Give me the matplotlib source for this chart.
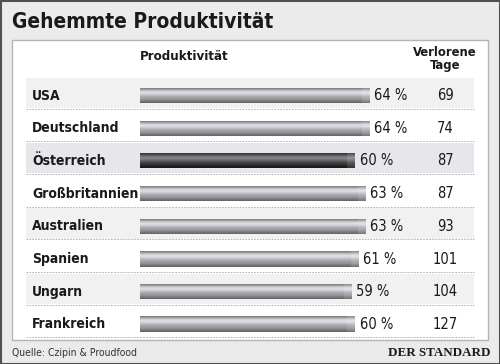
import numpy as np
import matplotlib
matplotlib.use('Agg')
import matplotlib.pyplot as plt
from matplotlib.patches import Rectangle

# Daten
laender = ['USA', 'Deutschland', 'Österreich', 'Großbritannien',
           'Australien', 'Spanien', 'Ungarn', 'Frankreich']
produktivitaet = [64, 64, 60, 63, 63, 61, 59, 60]
verlorene_tage = [69, 74, 87, 87, 93, 101, 104, 127]
hervorgehoben = 'Österreich'

titel = 'Gehemmte Produktivität'
quelle = 'Quelle: Czipin & Proudfood'

fam = ['DejaVu Sans']
eng = 'condensed'

W, H = 500, 364
fig = plt.figure(figsize=(W / 100, H / 100), dpi=100)
fig.patch.set_facecolor('#ebebeb')

# Hintergrund (Pixelkoordinaten)
bg = fig.add_axes([0, 0, 1, 1])
bg.set_xlim(0, W)
bg.set_ylim(H, 0)
bg.axis('off')
bg.add_patch(Rectangle((0.5, 0.5), W - 1, H - 1, fc='#ebebeb', ec='#505050', lw=1.5))
bg.add_patch(Rectangle((12, 40), 476, 300, fc='white', ec='#b4b4b4', lw=1))
bg.text(12, 22, titel, fontsize=15, fontweight='bold', family=fam, fontstretch=eng,
        color='#1a1a1a', va='center', ha='left')
bg.text(140, 57, 'Produktivität', fontsize=9.5, fontweight='bold', family=fam,
        fontstretch=eng, color='#1a1a1a', va='center', ha='left')
bg.text(445, 59, 'Verlorene\nTage', fontsize=9.3, fontweight='bold', family=fam,
        fontstretch=eng, color='#1a1a1a', va='center', ha='center', linespacing=1.0)
bg.text(12, 353, quelle, fontsize=7.5, family=fam, fontstretch=eng, color='#333333',
        va='center', ha='left')
bg.text(490, 353, 'DER STANDARD', fontsize=9.4, fontweight='bold',
        family=['Liberation Serif', 'DejaVu Serif'], color='#1a1a1a',
        va='center', ha='right')

# Balken-Achse: 0 % bei x=140 px, 3.58 px pro %
px_pro_pct = 3.58
zeile = 32.7
ax = fig.add_axes([0, 0, 1, 1])
ax.patch.set_alpha(0)
ax.axis('off')

profil_hell = np.array([0.52, 0.60, 0.72, 0.82, 0.86, 0.86, 0.82, 0.76,
                        0.70, 0.66, 0.62, 0.60, 0.56, 0.50, 0.45, 0.40])
profil_dunkel = np.array([0.22, 0.28, 0.36, 0.44, 0.50, 0.52, 0.48, 0.42,
                          0.36, 0.30, 0.26, 0.22, 0.18, 0.15, 0.12, 0.10])
bar_h = 15 / zeile

for i, (land, wert, tage) in enumerate(zip(laender, produktivitaet, verlorene_tage)):
    # Zeilenhintergrund
    if i % 2 == 0:
        farbe = '#e6e6eb' if land == hervorgehoben else '#f1f1f1'
        ax.axhspan(i - 0.55, i + 0.38, xmin=26 / W, xmax=474 / W, color=farbe, lw=0)
    ax.plot([-114 / px_pro_pct, 335 / px_pro_pct], [i + 0.4, i + 0.4],
            color='#a8a8a8', lw=0.6, ls=(0, (2, 1.5)))

    profil = profil_dunkel if land == hervorgehoben else profil_hell
    ncol = int(wert * 10)
    img = np.repeat(profil[:, None], ncol, axis=1)
    kappe = 22
    img[:, -kappe:] = img[:, -kappe:] + (1 - img[:, -kappe:]) * 0.12
    rgb = np.dstack([img, img, np.clip(img * 1.03, 0, 1)])
    ax.imshow(rgb, extent=(0, wert, i + bar_h / 2, i - bar_h / 2),
              aspect='auto', interpolation='bilinear', zorder=3)

    ax.text(32 / W, i, land, transform=ax.get_yaxis_transform(),
            fontsize=10, fontweight='bold', family=fam, fontstretch=eng,
            color='#1a1a1a', va='center', ha='left')
    ax.annotate(f'{wert} %', (wert, i), xytext=(3.5, 0), textcoords='offset points',
                fontsize=10.5, family=fam, fontstretch=eng, color='#1a1a1a',
                va='center', ha='left')
    ax.text(445 / W, i, str(tage), transform=ax.get_yaxis_transform(),
            fontsize=10.5, family=fam, fontstretch=eng, color='#1a1a1a',
            va='center', ha='center')

ax.set_ylim((H - 95.5) / zeile, -95.5 / zeile)
ax.set_xlim(-140 / px_pro_pct, (W - 140) / px_pro_pct)

fig.savefig('out.png', dpi=100, facecolor=fig.get_facecolor())
